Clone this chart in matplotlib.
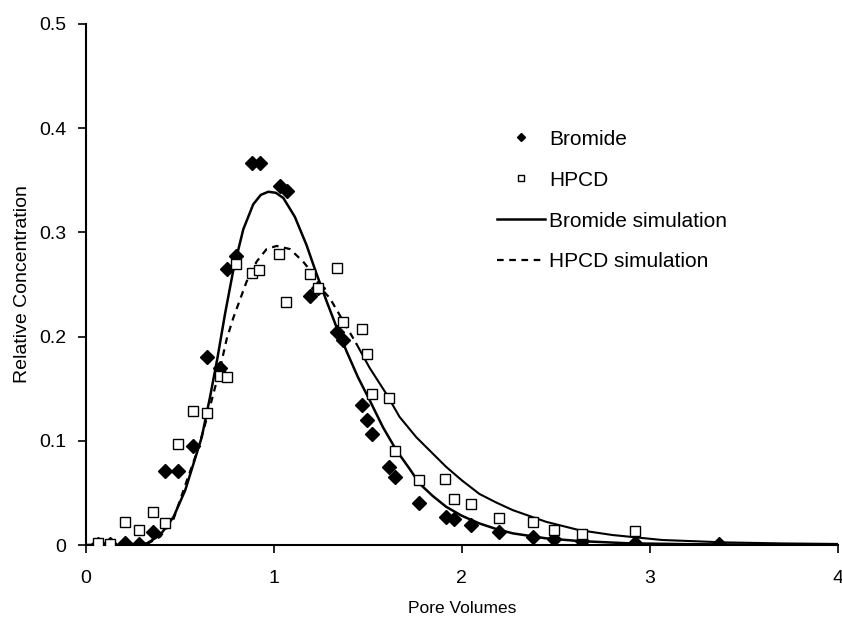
import matplotlib.pyplot as plt

plt.rcParams['font.family'] = ['Liberation Sans', 'DejaVu Sans']

pv_br = [0.063, 0.127, 0.21, 0.28, 0.355, 0.42, 0.49, 0.57, 0.645, 0.714, 0.75, 0.80,
         0.884, 0.926, 1.03, 1.07, 1.19, 1.233, 1.333, 1.37, 1.47, 1.497, 1.524, 1.614,
         1.646, 1.772, 1.915, 1.958, 2.05, 2.196, 2.38, 2.49, 2.64, 2.92, 3.37]
c_br = [0.001, 0.001, 0.002, 0.001, 0.012, 0.071, 0.071, 0.095, 0.180, 0.170, 0.265, 0.277,
        0.367, 0.367, 0.345, 0.340, 0.239, 0.247, 0.204, 0.197, 0.134, 0.120, 0.107, 0.075,
        0.065, 0.040, 0.027, 0.025, 0.019, 0.0125, 0.0077, 0.0057, 0.0038, 0.002, 0.001]

pv_hp = [0.063, 0.127, 0.21, 0.28, 0.355, 0.42, 0.49, 0.57, 0.645, 0.714, 0.75, 0.80,
         0.884, 0.92, 1.026, 1.063, 1.19, 1.233, 1.333, 1.37, 1.47, 1.497, 1.524, 1.614,
         1.646, 1.772, 1.91, 1.958, 2.05, 2.196, 2.38, 2.49, 2.64, 2.92]
c_hp = [0.002, 0.001, 0.022, 0.014, 0.032, 0.021, 0.097, 0.129, 0.127, 0.162, 0.161, 0.270,
        0.261, 0.264, 0.279, 0.233, 0.260, 0.247, 0.266, 0.214, 0.207, 0.183, 0.145, 0.141,
        0.090, 0.062, 0.063, 0.044, 0.039, 0.026, 0.022, 0.014, 0.0105, 0.0134]

# Simulated curves
pv_br_sim = [0.0, 0.27, 0.325, 0.395, 0.466, 0.528, 0.572, 0.616, 0.66, 0.70, 0.74, 0.784,
             0.837, 0.89, 0.93, 0.97, 1.01, 1.05, 1.111, 1.173, 1.226, 1.28, 1.333, 1.386,
             1.447, 1.509, 1.58, 1.651, 1.722, 1.774, 1.845, 1.916, 2.0, 2.093, 2.18, 2.27,
             2.447, 2.623, 2.889, 3.2, 3.5, 4.0]
c_br_sim = [0.0, 0.0, 0.0016, 0.0096, 0.027, 0.0526, 0.078, 0.1035, 0.142, 0.180, 0.222, 0.264,
            0.303, 0.327, 0.336, 0.339, 0.338, 0.333, 0.315, 0.288, 0.2605, 0.234, 0.209, 0.186,
            0.161, 0.139, 0.113, 0.091, 0.073, 0.059, 0.047, 0.0367, 0.028, 0.0207, 0.0155, 0.0112,
            0.0064, 0.0038, 0.0016, 0.0008, 0.0004, 0.0]

pv_hp_sim = [0.0, 0.27, 0.325, 0.395, 0.466, 0.537, 0.581, 0.625, 0.669, 0.714, 0.749, 0.784,
             0.855, 0.908, 0.961, 1.014, 1.085, 1.155, 1.209, 1.262, 1.297, 1.368, 1.439,
             1.509, 1.598, 1.668, 1.757, 1.845, 1.916, 2.0, 2.093, 2.18, 2.27, 2.447, 2.623,
             2.8, 3.065, 3.4, 3.7, 4.0]
c_hp_sim = [0.0, 0.0, 0.001, 0.008, 0.025, 0.062, 0.0844, 0.11, 0.139, 0.170, 0.198, 0.218,
            0.253, 0.272, 0.284, 0.287, 0.284, 0.272, 0.260, 0.244, 0.237, 0.215, 0.193,
            0.170, 0.145, 0.123, 0.1035, 0.0877, 0.075, 0.062, 0.049, 0.041, 0.0335, 0.0223,
            0.0143, 0.0096, 0.0048, 0.0025, 0.0015, 0.001]

fig = plt.figure(figsize=(8.42, 6.23), dpi=100)
ax = fig.add_axes([0.1021, 0.1252, 0.893, 0.8363])

ax.plot(pv_br, c_br, linestyle='none', marker='D', markersize=7, color='black',
        label='Bromide', zorder=3)
ax.plot(pv_hp, c_hp, linestyle='none', marker='s', markersize=7.5, markerfacecolor='white',
        markeredgecolor='black', markeredgewidth=1.0, label='HPCD', zorder=3)
ax.plot(pv_br_sim, c_br_sim, color='black', linewidth=1.8, label='Bromide simulation')

# dashed on the rising limb, the long tail prints almost solid
n_split = 22
ax.plot(pv_hp_sim[:n_split + 1], c_hp_sim[:n_split + 1], color='black', linewidth=1.6,
        linestyle=(0, (3, 2.5)), label='HPCD simulation')
ax.plot(pv_hp_sim[n_split:], c_hp_sim[n_split:], color='black', linewidth=1.5)

ax.set_xlim(0, 4)
ax.set_ylim(0, 0.5)
ax.set_xticks([0, 1, 2, 3, 4])
ax.set_yticks([0, 0.1, 0.2, 0.3, 0.4, 0.5])
ax.set_yticklabels(['0', '0.1', '0.2', '0.3', '0.4', '0.5'])
ax.tick_params(direction='out', length=6, width=1.2, labelsize=14)
ax.tick_params(axis='x', pad=12)
ax.tick_params(axis='y', pad=8)
ax.spines['top'].set_visible(False)
ax.spines['right'].set_visible(False)
ax.spines['left'].set_linewidth(1.5)
ax.spines['bottom'].set_linewidth(1.5)
ax.set_xlabel('Pore Volumes', fontsize=12.5, labelpad=10)
ax.set_ylabel('Relative Concentration', fontsize=14, labelpad=6)

leg = ax.legend(loc='upper left', bbox_to_anchor=(0.547, 0.797), frameon=False, fontsize=15,
                handlelength=2.3, markerscale=0.6, labelspacing=1.05, handletextpad=0.2,
                borderpad=0, borderaxespad=0)

fig.savefig('out.png', dpi=100)
